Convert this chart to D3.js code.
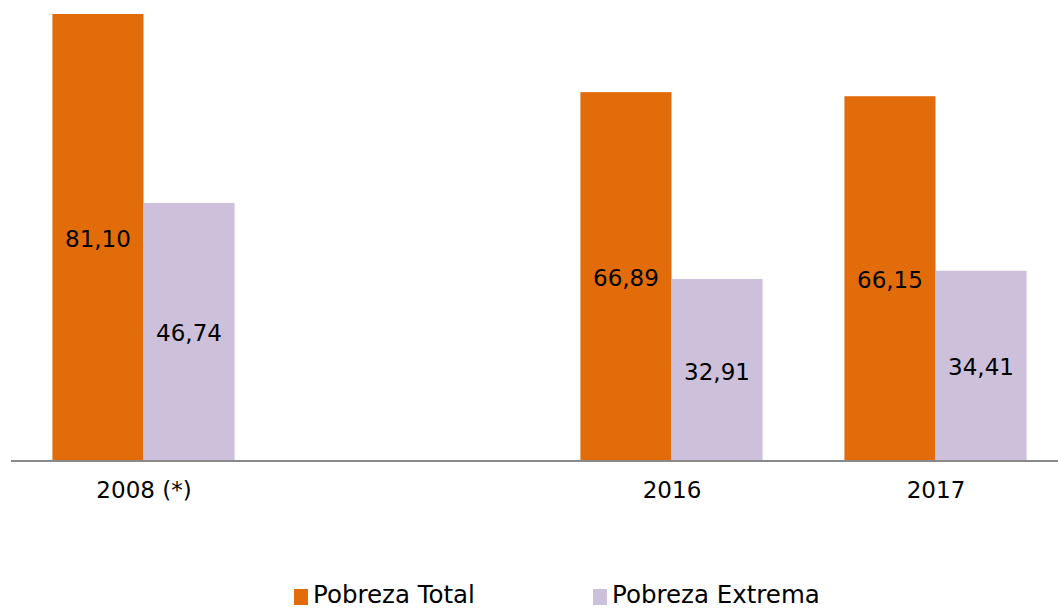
<!DOCTYPE html>
<html>
<head>
<meta charset="utf-8">
<script src="https://cdn.jsdelivr.net/npm/d3@7"></script>
<style>
  html, body { margin: 0; padding: 0; background: #fff; }
  svg { display: block; font-family: 'DejaVu Sans', sans-serif; }
</style>
</head>
<body>
<svg id="chart"></svg>
<script>
// categorías (el hueco entre 2008 y 2016 ocupa un lugar vacío)
const categories = ['2008 (*)', '', '2016', '2017']
const series = ['Pobreza Total', 'Pobreza Extrema']
const pobrezaTotal = [81.10, null, 66.89, 66.15]
const pobrezaExtrema = [46.74, null, 32.91, 34.41]

const colors = ['#e36c0a', '#ccc0da']

const width = 1058
const height = 608
const baseY = 460

const rows = categories.map((c, i) => ({
    cat: c,
    vals: [pobrezaTotal[i], pobrezaExtrema[i]]
}))

const svg = d3.select('#chart')
    .attr('width', width)
    .attr('height', height)

// escalas
const x0 = d3.scaleBand()
    .domain(d3.range(categories.length))
    .range([11.5, 1067.5])
    .paddingInner(0.31)
    .paddingOuter(0.155)

const x1 = d3.scaleBand()
    .domain(d3.range(series.length))
    .range([0, x0.bandwidth()])

const y = d3.scaleLinear()
    .domain([0, 81.1])
    .range([baseY, 14])

const color = d3.scaleOrdinal().domain(d3.range(series.length)).range(colors)

const fmt = (v) => d3.format('.2f')(v).replace('.', ',')

// barras
const groups = svg.append('g')
    .selectAll('g')
    .data(rows)
    .join('g')
    .attr('transform', (d, i) => `translate(${x0(i)},0)`)

const cells = groups.selectAll('g')
    .data((d) => d.vals.map((v, k) => ({ k, v })).filter((e) => e.v != null))
    .join('g')

cells.append('rect')
    .attr('x', (d) => x1(d.k))
    .attr('y', (d) => y(d.v))
    .attr('width', x1.bandwidth())
    .attr('height', (d) => baseY - y(d.v))
    .attr('fill', (d) => color(d.k))

cells.append('text')
    .attr('x', (d) => x1(d.k) + x1.bandwidth() / 2)
    .attr('y', (d) => (y(d.v) + baseY) / 2 + 2)
    .attr('text-anchor', 'middle')
    .attr('dominant-baseline', 'central')
    .attr('font-size', 23)
    .attr('fill', '#000')
    .text((d) => fmt(d.v))

// eje X
const xAxis = d3.axisBottom(d3.scalePoint().domain(d3.range(categories.length)).range([x0(0) + x0.bandwidth() / 2, x0(3) + x0.bandwidth() / 2]))
    .tickSize(0)
    .tickPadding(22)
    .tickFormat((i) => categories[i])

const ax = svg.append('g')
    .attr('transform', `translate(0,${baseY})`)
    .call(xAxis)

ax.select('.domain').remove()
ax.selectAll('text')
    .attr('font-family', 'DejaVu Sans, sans-serif')
    .attr('font-size', 23)
    .attr('fill', '#000')

svg.append('line')
    .attr('x1', 11)
    .attr('x2', width)
    .attr('y1', baseY + 1)
    .attr('y2', baseY + 1)
    .attr('stroke', '#8a8a8a')
    .attr('stroke-width', 2)

// leyenda
const legendX = [294, 593]
const legend = svg.append('g')
    .selectAll('g')
    .data(series)
    .join('g')
    .attr('transform', (d, i) => `translate(${legendX[i]},0)`)

legend.append('rect')
    .attr('x', 0)
    .attr('y', 589)
    .attr('width', 14)
    .attr('height', 16)
    .attr('fill', (d, i) => color(i))

legend.append('text')
    .attr('x', 19)
    .attr('y', 603)
    .attr('font-size', 24.5)
    .attr('fill', '#000')
    .text((d) => d)
</script>
</body>
</html>
